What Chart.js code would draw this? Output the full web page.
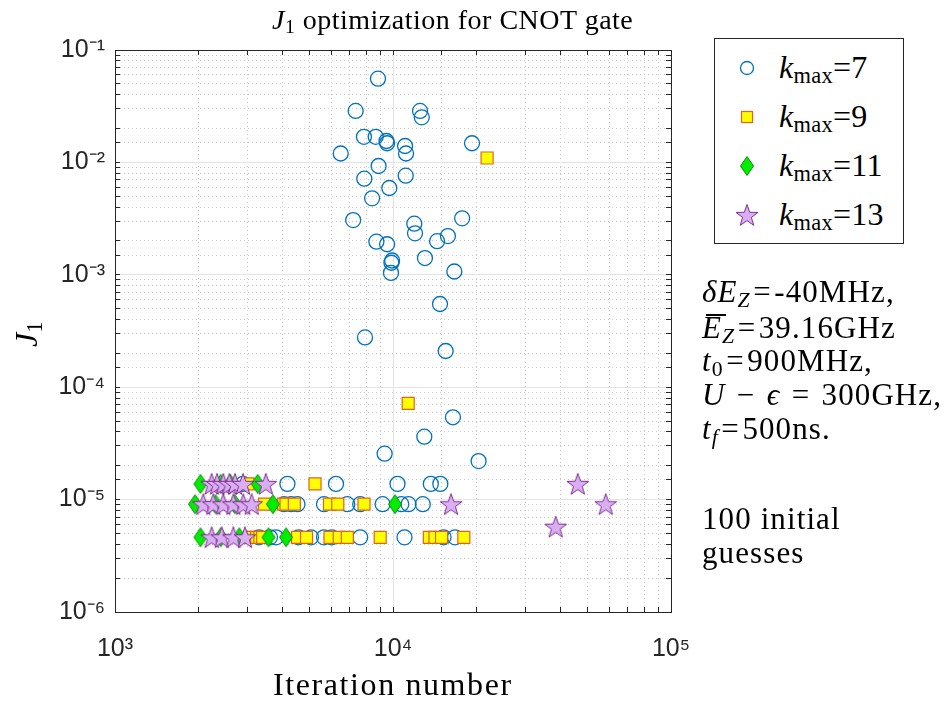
<!DOCTYPE html>
<html><head><meta charset="utf-8">
<script src="https://cdn.jsdelivr.net/npm/chart.js@4/dist/chart.umd.min.js"></script>
<style>
html,body{margin:0;padding:0;background:#fff;}
#wrap{position:relative;width:947px;height:704px;overflow:hidden;background:#fff;}
#c{position:absolute;left:0;top:0;}
.tx{position:absolute;font-family:'Liberation Serif','Times New Roman',serif;color:#000;white-space:nowrap;line-height:1;}
.tx sub{font-size:0.7em;vertical-align:-0.22em;line-height:0;}
.op{margin:0 0.08em;}
#legend{position:absolute;left:714px;top:38px;width:188px;height:204px;border:1px solid #262626;background:#fff;}
.lm{position:absolute;}
.an{left:702px;font-size:31px;letter-spacing:1.1px;}
#obar{position:absolute;left:706px;top:314px;width:20px;height:2px;background:#000;z-index:5;}
</style></head><body>
<div id="wrap">
<canvas id="c" width="947" height="704"></canvas>
<div class="tx" style="left:272px;top:6px;font-size:28px;letter-spacing:0.5px;"><i>J</i><sub>1</sub> optimization for CNOT gate</div>
<div class="tx" style="left:273px;top:668px;font-size:32px;letter-spacing:1.6px;">Iteration number</div>
<div class="tx" style="left:10px;top:347px;font-size:32px;transform:rotate(-90deg);transform-origin:0 0;"><i>J</i><sub>1</sub></div>
<div id="legend"></div>
<div class="tx an" style="top:276px;"><i>δE</i><sub><i>Z</i></sub><span class="op">=</span>-40MHz,</div>
<div class="tx an" style="top:312px;"><i>E</i><sub><i>Z</i></sub><span class="op">=</span>39.16GHz</div>
<div id="obar"></div>
<div class="tx an" style="top:345px;"><i>t</i><sub>0</sub><span class="op">=</span>900MHz,</div>
<div class="tx an" style="top:379px;"><i>U</i> <span class="op">−</span> <i>ϵ</i> <span class="op">=</span> 300GHz,</div>
<div class="tx an" style="top:413px;"><i>t</i><sub><i>f</i></sub><span class="op">=</span>500ns.</div>
<div class="tx an" style="top:503px;">100 initial</div>
<div class="tx an" style="top:537px;">guesses</div>
</div>
<script>
// ---------------- data ----------------
const seriesNames = ['k_max=7', 'k_max=9', 'k_max=11', 'k_max=13'];
const legendNums = ['7', '9', '11', '13'];

const k7X = [8830, 7340, 12510, 12690, 7860, 8665, 9470, 9525, 11050, 11140, 19240, 6485, 8875, 7885, 11110, 9700, 8410, 7190, 17730, 11930, 12000, 15760, 14410, 8715, 9525, 9925, 9870, 13030, 9835, 16620, 14760, 7930, 15470, 16430, 12960, 9330, 20320,
  2887, 4171, 6237, 10380, 13680, 14800,
  4055, 4300, 4535, 5646, 6850, 7621, 9175, 10712, 11370, 12800,
  3296, 3610, 3795, 4572, 5070, 5646, 6023, 7621, 11000, 15200, 16710];
const k7Y = [0.0556, 0.0287, 0.0287, 0.0252, 0.0169, 0.0169, 0.0155, 0.0148, 0.0140, 0.0120, 0.0148, 0.0120, 0.00929, 0.00716, 0.00762, 0.00592, 0.00479, 0.00307, 0.00318, 0.00285, 0.00234, 0.00221, 0.00199, 0.00197, 0.00187, 0.00134, 0.00128, 0.00141, 0.00104, 0.00107, 0.000550, 0.000277, 0.000210, 5.40e-5, 3.63e-5, 2.56e-5, 2.20e-5,
  1.38e-5, 1.38e-5, 1.38e-5, 1.38e-5, 1.38e-5, 1.38e-5,
  9.1e-6, 9.1e-6, 9.1e-6, 9.1e-6, 9.1e-6, 9.1e-6, 9.1e-6, 9.1e-6, 9.1e-6, 9.1e-6,
  4.62e-6, 4.62e-6, 4.62e-6, 4.62e-6, 4.62e-6, 4.62e-6, 4.62e-6, 4.62e-6, 4.62e-6, 4.62e-6, 4.62e-6];

const k9X = [21800, 11340,
  3010, 5242,
  3450, 4042, 4123, 4416, 5909, 6330, 7864,
  3060, 3234, 3320, 3399, 4535, 4885, 5935, 6405, 6850, 8995, 13510, 14160, 14950, 17980];
const k9Y = [0.01094, 7.19e-5,
  1.38e-5, 1.38e-5,
  9.1e-6, 9.1e-6, 9.1e-6, 9.1e-6, 9.1e-6, 9.1e-6, 9.1e-6,
  4.62e-6, 4.62e-6, 4.62e-6, 4.62e-6, 4.62e-6, 4.62e-6, 4.62e-6, 4.62e-6, 4.62e-6, 4.62e-6, 4.62e-6, 4.62e-6, 4.62e-6, 4.62e-6];

const k11X = [2030, 2400, 2600, 3259,
  1940, 2300, 2700, 3698, 10166,
  2030, 2400, 2800, 3567, 4123];
const k11Y = [1.38e-5, 1.38e-5, 1.38e-5, 1.38e-5,
  9.1e-6, 9.1e-6, 9.1e-6, 9.1e-6, 9.1e-6,
  4.62e-6, 4.62e-6, 4.62e-6, 4.62e-6, 4.62e-6];

const k13X = [2227, 2330, 2452, 2580, 2703, 2887, 3487, 46200,
  2078, 2257, 2452, 2665, 2894, 3102, 16170, 58240,
  2227, 2420, 2665, 2935, 38480];
const k13Y = [1.38e-5, 1.38e-5, 1.38e-5, 1.38e-5, 1.38e-5, 1.38e-5, 1.38e-5, 1.38e-5,
  9.1e-6, 9.1e-6, 9.1e-6, 9.1e-6, 9.1e-6, 9.1e-6, 9.1e-6, 9.1e-6,
  4.62e-6, 4.62e-6, 4.62e-6, 4.62e-6, 5.74e-6];

const xMin = 1e3, xMax = 1e5;
const yMin = 1e-6, yMax = 1e-1;

// ---------------- marker images ----------------
const C_BLUE = '#0072BD', C_SQ_FILL = '#FFFF00', C_SQ_EDGE = '#E2621E';
const C_DIA_FILL = '#00EE00', C_DIA_EDGE = '#0B8A0B';
const C_STAR_FILL = '#DAAEF2', C_STAR_EDGE = '#7E2F8E';

function makeCanvas(w, h, draw) {
  const c = document.createElement('canvas');
  c.width = w; c.height = h;
  draw(c.getContext('2d'), w, h);
  return c;
}
function drawDiamond(ctx, cx, cy, hw, hh) {
  ctx.beginPath();
  ctx.moveTo(cx, cy - hh); ctx.lineTo(cx + hw, cy); ctx.lineTo(cx, cy + hh); ctx.lineTo(cx - hw, cy);
  ctx.closePath();
  ctx.fillStyle = C_DIA_FILL; ctx.fill();
  ctx.lineWidth = 1; ctx.strokeStyle = C_DIA_EDGE; ctx.stroke();
}
function drawStar(ctx, cx, cy, R) {
  const r = R * 0.40;
  ctx.beginPath();
  for (let i = 0; i < 10; i++) {
    const a = -Math.PI / 2 + i * Math.PI / 5;
    const rr = (i % 2 === 0) ? R : r;
    const px = cx + rr * Math.cos(a), py = cy + rr * Math.sin(a);
    if (i === 0) ctx.moveTo(px, py); else ctx.lineTo(px, py);
  }
  ctx.closePath();
  ctx.fillStyle = C_STAR_FILL; ctx.fill();
  ctx.lineWidth = 1; ctx.strokeStyle = C_STAR_EDGE; ctx.stroke();
}
const diamondImg = makeCanvas(16, 22, (ctx, w, h) => drawDiamond(ctx, w / 2, h / 2, 6.5, 9.5));
const starImg = makeCanvas(26, 26, (ctx, w, h) => drawStar(ctx, w / 2, h / 2 + 1, 11.5));

function pts(xs, ys) { return xs.map((x, i) => ({ x: x, y: ys[i] })); }

// ---------------- axes helpers ----------------
const SUP = { '-': '⁻', '0': '⁰', '1': '¹', '2': '²', '3': '³', '4': '⁴', '5': '⁵', '6': '⁶', '7': '⁷', '8': '⁸', '9': '⁹' };
function isPow10(v) { const l = Math.log10(v); return Math.abs(l - Math.round(l)) < 1e-6; }
function powLabel(v) {
  if (!isPow10(v)) return '';
  const e = Math.round(Math.log10(v));
  return '10' + String(e).split('').map(ch => SUP[ch]).join('');
}
const AXIS_COLOR = '#262626';
const gridOpts = {
  color: c => (c.tick && isPow10(c.tick.value)) ? '#E3E3E3' : '#C9C9C9',
  lineWidth: 1,
  drawTicks: true,
  tickLength: -5,
  tickColor: AXIS_COLOR,
  tickWidth: 1
};
const borderOpts = {
  color: AXIS_COLOR, width: 1,
  dash: c => (c.tick && !isPow10(c.tick.value)) ? [1, 3] : []
};
const boxGrid = { display: true, color: 'rgba(0,0,0,0)', drawTicks: true, tickLength: -5, tickColor: AXIS_COLOR, tickWidth: 1 };
const tickFont = { family: "'Liberation Sans', Arial, sans-serif", size: 25 };

new Chart(document.getElementById('c'), {
  type: 'scatter',
  data: {
    datasets: [
      { label: seriesNames[0], data: pts(k7X, k7Y), pointStyle: 'circle', pointRadius: 7.5, pointHoverRadius: 7.5,
        borderColor: C_BLUE, backgroundColor: 'rgba(0,0,0,0)', borderWidth: 1.3, order: 4 },
      { label: seriesNames[1], data: pts(k9X, k9Y), pointStyle: 'rect', pointRadius: 8.5, pointHoverRadius: 8.5,
        borderColor: C_SQ_EDGE, backgroundColor: C_SQ_FILL, borderWidth: 1.2, order: 3 },
      { label: seriesNames[2], data: pts(k11X, k11Y), pointStyle: diamondImg, pointRadius: 8, pointHoverRadius: 8,
        borderColor: C_DIA_EDGE, backgroundColor: C_DIA_FILL, order: 2 },
      { label: seriesNames[3], data: pts(k13X, k13Y), pointStyle: starImg, pointRadius: 10, pointHoverRadius: 10,
        borderColor: C_STAR_EDGE, backgroundColor: C_STAR_FILL, order: 1 }
    ]
  },
  options: {
    responsive: false,
    devicePixelRatio: 1,
    animation: false,
    layout: { padding: { left: 0, right: 276, top: 50, bottom: 0 } },
    plugins: { legend: { display: false }, tooltip: { enabled: false }, title: { display: false } },
    scales: {
      x: {
        type: 'logarithmic', position: 'bottom', min: xMin, max: xMax,
        grid: gridOpts, border: borderOpts,
        ticks: { callback: v => powLabel(v), font: tickFont, color: AXIS_COLOR, padding: 27, autoSkip: false, maxRotation: 0 },
        afterFit: s => { s.height = 92; }
      },
      y: {
        type: 'logarithmic', position: 'left', min: yMin, max: yMax,
        grid: gridOpts, border: borderOpts,
        ticks: { callback: v => powLabel(v), font: tickFont, color: AXIS_COLOR, padding: 15, autoSkip: false },
        afterFit: s => { s.width = 115; }
      },
      xTop: {
        type: 'logarithmic', position: 'top', min: xMin, max: xMax,
        grid: boxGrid, ticks: { display: false },
        border: { color: AXIS_COLOR, width: 1 },
        afterFit: s => { s.height = 0; }
      },
      yRight: {
        type: 'logarithmic', position: 'right', min: yMin, max: yMax,
        grid: boxGrid, ticks: { display: false },
        border: { color: AXIS_COLOR, width: 1 },
        afterFit: s => { s.width = 0; }
      }
    }
  }
});

// ---------------- legend (HTML text, canvas markers) ----------------
const legend = document.getElementById('legend');
const rowY = [29, 78, 127, 176];
const markerFns = [
  (ctx) => { ctx.beginPath(); ctx.arc(13, 13, 6.5, 0, 2 * Math.PI); ctx.lineWidth = 1.3; ctx.strokeStyle = C_BLUE; ctx.stroke(); },
  (ctx) => { ctx.fillStyle = C_SQ_FILL; ctx.fillRect(7.5, 7.5, 11, 11); ctx.lineWidth = 1.2; ctx.strokeStyle = C_SQ_EDGE; ctx.strokeRect(7.5, 7.5, 11, 11); },
  (ctx) => drawDiamond(ctx, 13, 13, 6.5, 9.5),
  (ctx) => drawStar(ctx, 13, 14, 11.5)
];
for (let i = 0; i < 4; i++) {
  const m = makeCanvas(26, 26, markerFns[i]);
  m.className = 'lm';
  m.style.left = (32 - 13) + 'px';
  m.style.top = (rowY[i] - 13) + 'px';
  legend.appendChild(m);
  const t = document.createElement('div');
  t.className = 'tx';
  t.style.left = '64px';
  t.style.top = (rowY[i] - 17) + 'px';
  t.style.fontSize = '32px';
  t.style.letterSpacing = '0.3px';
  t.innerHTML = '<i>k</i><sub>max</sub>=' + legendNums[i];
  legend.appendChild(t);
}
</script>
</body></html>
